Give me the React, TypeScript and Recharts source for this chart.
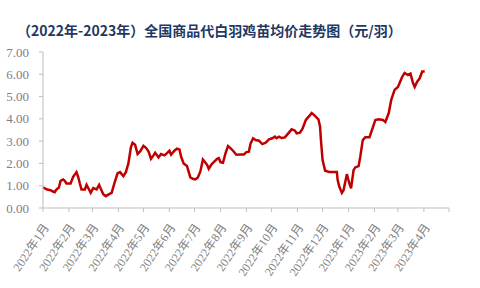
import { CartesianGrid, Line, LineChart, XAxis, YAxis } from "recharts"

// Weekly-ish quotes
const dates = [
  "2022-01-01", "2022-01-06", "2022-01-10", "2022-01-13", "2022-01-15", "2022-01-17", "2022-01-20",
  "2022-01-22", "2022-01-25", "2022-01-27", "2022-01-29", "2022-02-03", "2022-02-06", "2022-02-10",
  "2022-02-12", "2022-02-14", "2022-02-16", "2022-02-20", "2022-02-22", "2022-02-25", "2022-02-27",
  "2022-03-02", "2022-03-06", "2022-03-09", "2022-03-11", "2022-03-14", "2022-03-17", "2022-03-21",
  "2022-03-24", "2022-03-27", "2022-03-31", "2022-04-03", "2022-04-07", "2022-04-10", "2022-04-13",
  "2022-04-16", "2022-04-18", "2022-04-21", "2022-04-24", "2022-04-27", "2022-05-01", "2022-05-04",
  "2022-05-07", "2022-05-10", "2022-05-13", "2022-05-15", "2022-05-19", "2022-05-22", "2022-05-26",
  "2022-05-28", "2022-06-01", "2022-06-03", "2022-06-07", "2022-06-10", "2022-06-13", "2022-06-15",
  "2022-06-18", "2022-06-22", "2022-06-26", "2022-06-29", "2022-07-02", "2022-07-05", "2022-07-08",
  "2022-07-11", "2022-07-13", "2022-07-16", "2022-07-18", "2022-07-21", "2022-07-24", "2022-07-28",
  "2022-07-30", "2022-08-01", "2022-08-04", "2022-08-07", "2022-08-10", "2022-08-12", "2022-08-16",
  "2022-08-20", "2022-08-25", "2022-08-29", "2022-09-01", "2022-09-04", "2022-09-06", "2022-09-09",
  "2022-09-12", "2022-09-16", "2022-09-20", "2022-09-24", "2022-09-28", "2022-10-02", "2022-10-05",
  "2022-10-07", "2022-10-10", "2022-10-13", "2022-10-17", "2022-10-21", "2022-10-25", "2022-10-29",
  "2022-10-31", "2022-11-04", "2022-11-07", "2022-11-11", "2022-11-16", "2022-11-18", "2022-11-21",
  "2022-11-26", "2022-11-28", "2022-11-29", "2022-12-01", "2022-12-04", "2022-12-09", "2022-12-18",
  "2022-12-19", "2022-12-21", "2022-12-24", "2022-12-26", "2022-12-29", "2022-12-30", "2023-01-02",
  "2023-01-04", "2023-01-07", "2023-01-09", "2023-01-13", "2023-01-15", "2023-01-18", "2023-01-21",
  "2023-01-26", "2023-01-29", "2023-02-02", "2023-02-06", "2023-02-11", "2023-02-14", "2023-02-18",
  "2023-02-21", "2023-02-25", "2023-03-01", "2023-03-03", "2023-03-06", "2023-03-09", "2023-03-13",
  "2023-03-16", "2023-03-19", "2023-03-21", "2023-03-24", "2023-03-27", "2023-03-30", "2023-04-02",
]

const prices = [
  0.92, 0.83, 0.8, 0.74, 0.71, 0.83, 0.92,
  1.22, 1.28, 1.22, 1.1, 1.1, 1.4, 1.61,
  1.4, 1.1, 0.83, 0.83, 1.04, 0.83, 0.68,
  0.89, 0.83, 1.04, 0.86, 0.62, 0.53, 0.62,
  0.68, 1.07, 1.55, 1.61, 1.43, 1.61, 2.0,
  2.72, 2.93, 2.84, 2.42, 2.54, 2.79, 2.7,
  2.54, 2.21, 2.36, 2.48, 2.27, 2.42, 2.36,
  2.42, 2.57, 2.39, 2.57, 2.66, 2.63, 2.3,
  2.0, 1.88, 1.37, 1.31, 1.28, 1.37, 1.64,
  2.18, 2.09, 1.94, 1.76, 1.94, 2.06, 2.21,
  2.24, 2.06, 2.03, 2.45, 2.78, 2.72, 2.57,
  2.39, 2.4, 2.4, 2.51, 2.53, 2.9, 3.13,
  3.05, 3.02, 2.87, 2.93, 3.08, 3.13, 3.2,
  3.13, 3.2, 3.14, 3.17, 3.35, 3.53, 3.47,
  3.35, 3.38, 3.56, 3.95, 4.17, 4.26, 4.17,
  3.98, 3.65, 3.05, 2.15, 1.67, 1.62, 1.62,
  1.25, 0.95, 0.68, 0.8, 1.33, 1.52, 1.1,
  0.88, 1.7, 1.82, 1.88, 2.3, 3.05, 3.17,
  3.17, 3.5, 3.95, 3.98, 3.95, 3.86, 4.26,
  4.85, 5.3, 5.43, 5.61, 5.88, 6.06, 5.97,
  6.03, 5.61, 5.43, 5.67, 5.82, 6.12, 6.12,
]

const monthTicks = [
  "2022-01-01", "2022-02-01", "2022-03-01", "2022-04-01", "2022-05-01", "2022-06-01",
  "2022-07-01", "2022-08-01", "2022-09-01", "2022-10-01", "2022-11-01", "2022-12-01",
  "2023-01-01", "2023-02-01", "2023-03-01", "2023-04-01", "2023-05-01",
]

const yTicks = [0, 1, 2, 3, 4, 5, 6, 7]

const toTime = (s: string) => {
  const [y, m, d] = s.split("-").map(Number)
  return Date.UTC(y, m - 1, d)
}

const data = dates.map((d, i) => ({ t: toTime(d), price: prices[i] }))
const xTicks = monthTicks.map(toTime)
const lastTick = xTicks[xTicks.length - 1]

const serif = "'Liberation Serif', 'Times New Roman', 'Noto Sans CJK SC', serif"

function MonthTick({ x, y, payload }: any) {
  if (payload.value === lastTick) return null
  const dt = new Date(payload.value)
  const label = `${dt.getUTCFullYear()}年${dt.getUTCMonth() + 1}月`
  return (
    <g transform={`translate(${x + 3},${y + 11})`}>
      <text x={0} y={0} dy="0.35em" textAnchor="end" transform="rotate(-56)" fill="#808080" fontSize={12} fontFamily={serif}>
        {label}
      </text>
    </g>
  )
}

export default function App() {
  return (
    <div style={{ position: "absolute", left: 0, top: 0, width: 480, height: 288, background: "#fff" }}>
      <div
        style={{
          position: "absolute",
          left: 17,
          top: 21,
          fontSize: 14,
          fontWeight: "bold",
          color: "#1F3864",
          fontFamily: "'Noto Sans CJK SC', sans-serif",
          whiteSpace: "nowrap",
          lineHeight: "18px",
        }}
      >
        （2022年-2023年）全国商品代白羽鸡苗均价走势图（元/羽）
      </div>
      <LineChart width={480} height={288} data={data} margin={{ top: 52, right: 31, bottom: 0, left: 0 }}>
        <CartesianGrid vertical={false} horizontal={false} />
        <XAxis
          dataKey="t"
          type="number"
          domain={[xTicks[0], lastTick]}
          ticks={xTicks}
          interval={0}
          height={80}
          stroke="#BFBFBF"
          tickSize={4}
          tick={<MonthTick />}
        />
        <YAxis
          domain={[0, 7]}
          ticks={yTicks}
          width={43}
          stroke="#BFBFBF"
          tickSize={4}
          tickMargin={10}
          tick={{ fill: "#808080", fontSize: 13, fontFamily: serif }}
          tickFormatter={(v: number) => v.toFixed(2)}
        />
        <Line
          type="linear"
          dataKey="price"
          stroke="#C00000"
          strokeWidth={2.5}
          dot={false}
          isAnimationActive={false}
        />
      </LineChart>
    </div>
  )
}
